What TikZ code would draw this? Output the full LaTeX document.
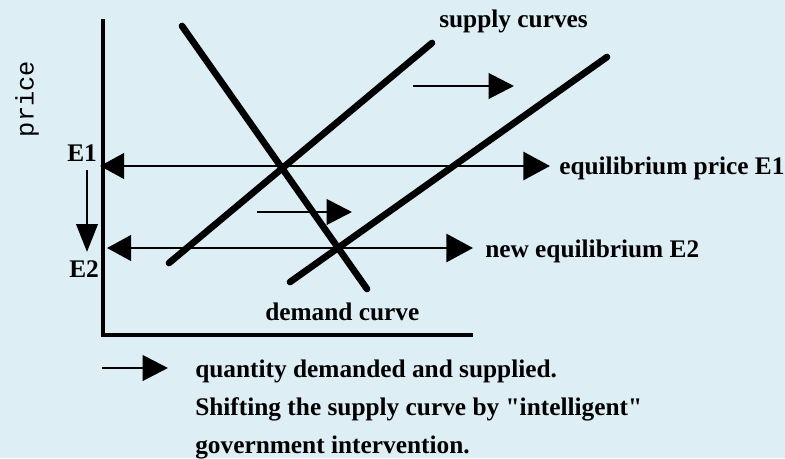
\documentclass[tikz,border=0pt]{standalone}
\usepackage{fontspec}
\setmainfont{Liberation Serif}
\newfontfamily\precioFont{Liberation Mono}
\usetikzlibrary{arrows.meta,positioning}
\definecolor{fondo}{RGB}{221,238,244}
\tikzset{
    eje/.style={
        line width=2.4pt          % ejes finos pero visibles
    },
    curva/.style={
        line width=5pt,           % curvas de oferta y demanda bien gruesas
        line cap=round            % extremos redondeados
    },
    flecha/.style={
        -{Triangle[length=19pt,width=19pt]}, % punta grande y llena
        line width=2.2pt
    },
    dobleflecha/.style={
        {Triangle[length=18pt,width=19pt]}-{Triangle[length=20pt,width=21pt]},
        line width=2.2pt
    },
    etiqueta/.style={
        font=\bfseries\fontsize{19}{22}\selectfont, % texto en negrita tipo Times
        inner sep=0pt,
        anchor=base west
    }
}

\begin{document}
\begin{tikzpicture}[x=0.75pt,y=-0.75pt]
    \fill[fondo] (0,0) rectangle (785,458);
    \useasboundingbox (0,0) rectangle (785,458);

    % ejes
    \coordinate (ytop) at (103,19);
    \coordinate (origen) at (103,335);
    \coordinate (xfin) at (473,335);
    \draw[eje] (ytop) -- (origen) -- (xfin);
    \node[rotate=90, inner sep=0pt, font=\precioFont\fontsize{19}{20}\selectfont] (precio) at (27,99) {price};

    % curvas
    \coordinate (dem1) at (182,26);
    \coordinate (dem2) at (367,289);
    \coordinate (ofa1) at (169,263);
    \coordinate (ofa2) at (432,43);
    \coordinate (ofb1) at (290,282);
    \coordinate (ofb2) at (607,57);
    \draw[curva] (dem1) -- (dem2);
    \draw[curva] (ofa1) -- (ofa2);
    \draw[curva] (ofb1) -- (ofb2);

    % precios de equilibrio
    \coordinate (e1ini) at (100,166);
    \coordinate (e1fin) at (550,166);
    \coordinate (e2ini) at (107,248);
    \coordinate (e2fin) at (473,248);
    \draw[dobleflecha] (e1ini) -- (e1fin);
    \draw[dobleflecha] (e2ini) -- (e2fin);
    \node[etiqueta] (e1) at (67,161) {E1};
    \node[etiqueta] (e2) at (69,277) {E2};
    \coordinate (bajaini) at (87,170);
    \coordinate (bajafin) at (87,252);
    \draw[-{Triangle[length=21pt,width=16pt]}, line width=2.2pt] (bajaini) -- (bajafin);

    % desplazamiento de la oferta
    \coordinate (des1ini) at (413,86);
    \coordinate (des1fin) at (514,86);
    \coordinate (des2ini) at (257,212);
    \coordinate (des2fin) at (352,212);
    \draw[flecha] (des1ini) -- (des1fin);
    \draw[flecha] (des2ini) -- (des2fin);

    % textos
    \node[etiqueta] (ofertas) at (439,27) {supply curves};
    \node[etiqueta] (demanda) at (265,320) {demand curve};
    \node[etiqueta] (e1texto) at (559,174) {equilibrium price E1};
    \node[etiqueta] (e2texto) at (485,257) {new equilibrium E2};

    % leyenda
    \coordinate (legini) at (102,368);
    \coordinate (legfin) at (168,368);
    \draw[flecha] (legini) -- (legfin);
    \node[etiqueta] (linea1) at (195,377) {quantity demanded and supplied.};
    \node[etiqueta, below=28.5pt of linea1.base west, anchor=base west] (linea2) {Shifting the supply curve by \textquotedbl intelligent\textquotedbl};
    \node[etiqueta, below=28.5pt of linea2.base west, anchor=base west] (linea3) {government intervention.};
\end{tikzpicture}
\end{document}
